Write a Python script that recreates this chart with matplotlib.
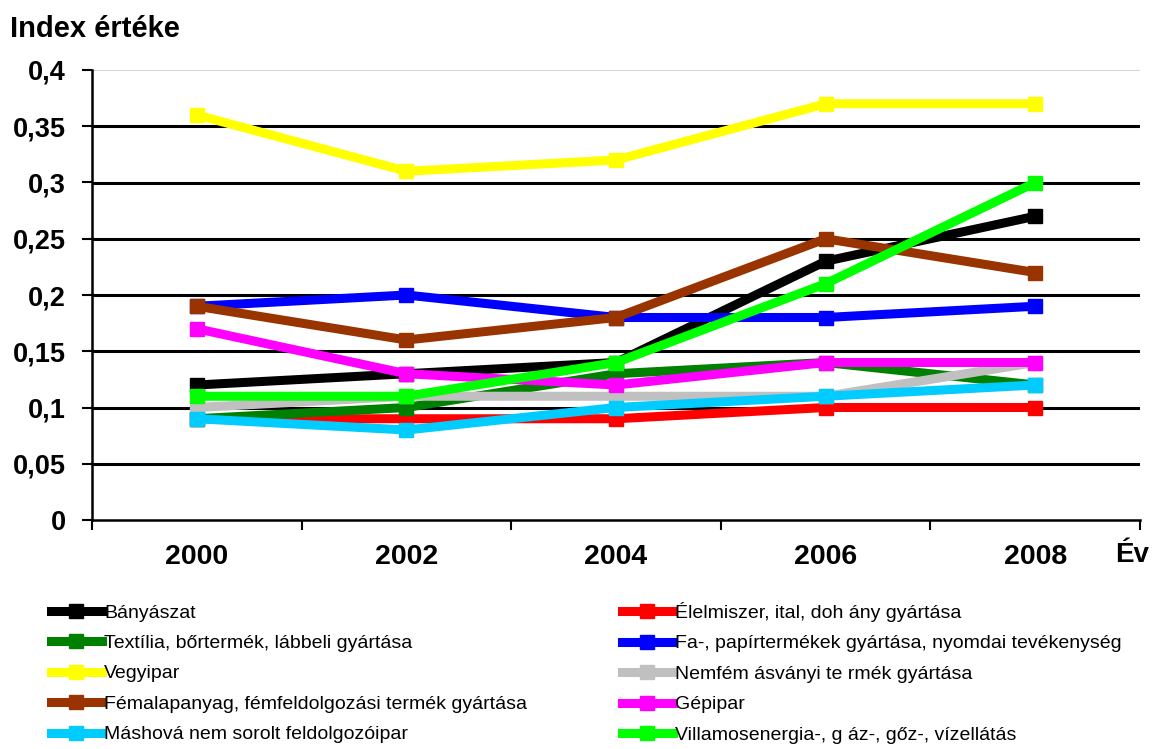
import numpy as np
import matplotlib.pyplot as plt
from matplotlib.ticker import FuncFormatter

plt.rcParams['font.family'] = ['Liberation Sans', 'DejaVu Sans']

years = ['2000', '2002', '2004', '2006', '2008']

# series (same order as the legend, row by row)
names = [
    'Bányászat',
    'Élelmiszer, ital, doh ány gyártása',
    'Textília, bőrtermék, lábbeli gyártása',
    'Fa-, papírtermékek gyártása, nyomdai tevékenység',
    'Vegyipar',
    'Nemfém ásványi te rmék gyártása',
    'Fémalapanyag, fémfeldolgozási termék gyártása',
    'Gépipar',
    'Máshová nem sorolt feldolgozóipar',
    'Villamosenergia-, g áz-, gőz-, vízellátás',
]
banyaszat = [0.12, 0.13, 0.14, 0.23, 0.27]
elelmiszer = [0.09, 0.09, 0.09, 0.10, 0.10]
textilia = [0.09, 0.10, 0.13, 0.14, 0.12]
fa_papir = [0.19, 0.20, 0.18, 0.18, 0.19]
vegyipar = [0.36, 0.31, 0.32, 0.37, 0.37]
nemfem = [0.10, 0.11, 0.11, 0.11, 0.14]
femalap = [0.19, 0.16, 0.18, 0.25, 0.22]
gepipar = [0.17, 0.13, 0.12, 0.14, 0.14]
mashova = [0.09, 0.08, 0.10, 0.11, 0.12]
villamos = [0.11, 0.11, 0.14, 0.21, 0.30]

series = [banyaszat, elelmiszer, textilia, fa_papir, vegyipar,
          nemfem, femalap, gepipar, mashova, villamos]
colors = ['#000000', '#ff0000', '#008000', '#0000ff', '#ffff00',
          '#c0c0c0', '#993300', '#ff00ff', '#00ccff', '#00ff00']

W, H = 1155, 749
fig = plt.figure(figsize=(W / 100, H / 100), dpi=100)
ax = fig.add_axes([92 / W, 1 - 520 / H, (1140 - 92) / W, (520 - 70) / H])

x = np.arange(len(years))
# gridlines
for v in np.arange(0.05, 0.36, 0.05):
    ax.axhline(v, color='black', lw=2.2, zorder=1)
ax.axhline(0.4, color='#d0d0d0', lw=1.2, zorder=1)

handles = []
for name, vals, c in zip(names, series, colors):
    h, = ax.plot(x, vals, color=c, lw=6.5, marker='s', ms=10.5, mfc=c, mec=c,
                 label=name, zorder=3)
    handles.append(h)

ax.set_xlim(-0.5, 4.5)
ax.set_ylim(0, 0.4)
ax.set_yticks(np.arange(0, 0.41, 0.05))
ax.yaxis.set_major_formatter(FuncFormatter(
    lambda v, p: ('%g' % round(v, 2)).replace('.', ',')))
ax.set_xticks(x)
ax.set_xticklabels(years)
ax.set_xticks(np.arange(-0.5, 4.6, 1), minor=True)
ax.tick_params(axis='x', which='major', length=0, pad=17, labelsize=20.5)
ax.tick_params(axis='x', which='minor', length=7, width=1.5, direction='out')
ax.tick_params(axis='y', length=7, width=1.5, direction='out', pad=12, labelsize=19.5)
for lab in ax.get_xticklabels() + ax.get_yticklabels():
    lab.set_fontweight('bold')

for s in ['top', 'right']:
    ax.spines[s].set_visible(False)
for s in ['left', 'bottom']:
    ax.spines[s].set_linewidth(1.8)

fig.text(10 / W, 1 - 29 / H, 'Index értéke', fontsize=21, fontweight='bold',
         va='center', ha='left')
fig.text(1115 / W, 1 - 555 / H, 'Év', fontsize=20, fontweight='bold',
         va='center', ha='left')

leg_kw = dict(frameon=False, fontsize=14, handlelength=2.6, handletextpad=0.12,
              labelspacing=0.66, borderpad=0, borderaxespad=0, loc='upper left')
l1 = fig.legend(handles[0::2], names[0::2], bbox_to_anchor=(51 / W, 1 - 604 / H), **leg_kw)
l2 = fig.legend(handles[1::2], names[1::2], bbox_to_anchor=(622 / W, 1 - 602 / H), **leg_kw)

fig.savefig('out.png', dpi=100)
